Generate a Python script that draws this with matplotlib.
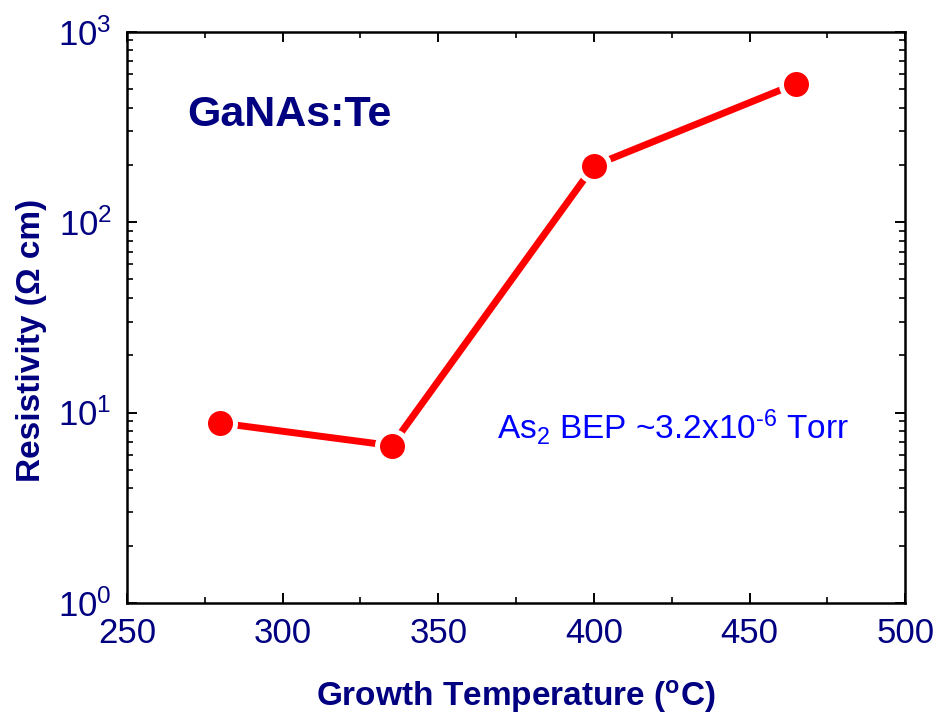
import matplotlib

matplotlib.use("Agg")
import matplotlib.pyplot as plt
from matplotlib.ticker import LogLocator, MultipleLocator, NullFormatter

# Resistivity vs growth temperature, GaNAs:Te
growth_temp = [280, 335, 400, 465]
resistivity = [8.8, 6.7, 198, 534]

x_ticks = [250, 300, 350, 400, 450, 500]

NAVY = "#000080"
BLUE = "#0000ff"
RED = "#ff0000"

plt.rcParams["font.family"] = ["Liberation Sans", "DejaVu Sans"]
plt.rcParams["mathtext.fontset"] = "custom"
plt.rcParams["mathtext.rm"] = "Liberation Sans"
plt.rcParams["mathtext.it"] = "Liberation Sans:italic"
plt.rcParams["mathtext.bf"] = "Liberation Sans:bold"

fig = plt.figure(figsize=(9.41, 7.22), dpi=100)
ax = fig.add_axes([0.135, 0.165, 0.827, 0.791])

ax.plot(
    growth_temp,
    resistivity,
    color=RED,
    linewidth=5,
    marker="o",
    markersize=21.6,
    markerfacecolor=RED,
    markeredgecolor="white",
    markeredgewidth=3.6,
    solid_capstyle="butt",
    zorder=3,
)

ax.set_yscale("log")
ax.set_xlim(250, 500)
ax.set_ylim(1, 1000)
ax.set_xticks(x_ticks)
ax.xaxis.set_minor_locator(MultipleLocator(25))
ax.yaxis.set_major_locator(LogLocator(base=10))
ax.yaxis.set_minor_locator(LogLocator(base=10, subs=range(2, 10)))
ax.yaxis.set_minor_formatter(NullFormatter())

for side in ax.spines.values():
    side.set_linewidth(1.8)

ax.tick_params(which="both", direction="in", top=True, right=True, colors="black")
ax.tick_params(which="major", length=7.5, width=1.4)
ax.tick_params(which="minor", length=4.5, width=1.2)
ax.tick_params(axis="x", which="major", labelsize=25, labelcolor=NAVY, pad=10)
ax.tick_params(axis="y", which="major", labelsize=25, labelcolor=NAVY, pad=11)

ax.set_xlabel("Growth Temperature ($^{\\mathbf{o}}$C)", fontsize=24,
              fontweight="bold", color=NAVY, labelpad=20)
ax.set_ylabel("Resistivity (\u03a9 cm)", fontsize=24, fontweight="bold",
              color=NAVY)
ax.yaxis.set_label_coords(-0.103, 0.459)

ax.text(0.078, 0.835, "GaNAs:Te", transform=ax.transAxes, fontsize=31,
        fontweight="bold", color=NAVY, ha="left", va="baseline")
ax.text(0.702, 0.287, "As$_2$ BEP ~3.2x10$^{\\text{-6}}$ Torr", transform=ax.transAxes,
        fontsize=24, color=BLUE, ha="center", va="baseline")

fig.savefig("out.png", dpi=100)
